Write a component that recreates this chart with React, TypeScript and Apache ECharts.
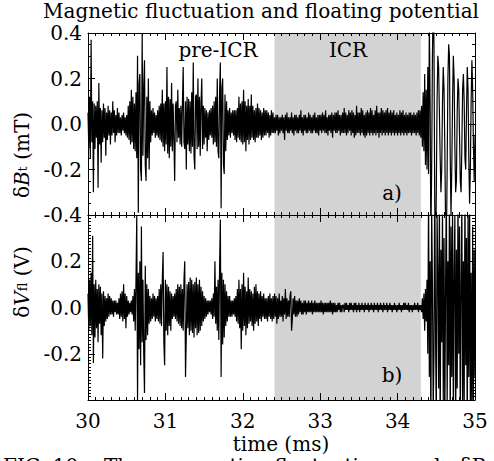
import React, { useEffect, useRef } from "react";
import * as echarts from "echarts";

const FONT = "DejaVu Serif";

// sampling of the traces (ms)
const T_START = 30;
const T_STEP = 0.01;

// ICR phase (ms)
const ICR_START = 32.41;
const ICR_END = 34.3;

const X_TICKS = [30, 31, 32, 33, 34, 35];
const Y_TICKS_A = [-0.4, -0.2, 0.0, 0.2, 0.4];
const Y_TICKS_B = [-0.2, 0.0, 0.2];

// magnetic fluctuation dBt (mT), read every 0.01 ms
const dBt = [
  0.05, -0.1, 0.12, -0.15, 0.37, -0.08, 0.1, -0.3, 0.09, -0.11,
  0.08, -0.06, 0.1, -0.28, 0.18, -0.09, 0.07, -0.17, 0.06, -0.08,
  0.09, -0.06, 0.07, -0.14, 0.05, -0.07, 0.08, -0.05, 0.06, -0.09,
  0.05, -0.05, 0.1, -0.04, 0.06, -0.08, 0.04, -0.05, 0.07, -0.04,
  0.05, -0.04, 0.03, -0.05, 0.04, -0.03, 0.05, -0.04, 0.03, -0.05,
  0.04, -0.06, 0.08, -0.07, 0.1, -0.09, 0.15, -0.08, 0.12, -0.11,
  0.09, -0.12, 0.14, -0.15, 0.3, -0.39, 0.18, 0.22, -0.2, -0.25,
  0.4, -0.14, 0.16, 0.28, -0.18, -0.25, 0.12, -0.15, 0.2, -0.2,
  0.1, -0.08, 0.06, -0.05, 0.07, -0.04, 0.05, -0.06, 0.04, -0.05,
  0.06, -0.06, 0.08, -0.07, 0.09, -0.08, 0.15, -0.1, 0.09, -0.12,
  0.1, -0.09, 0.25, -0.13, 0.12, -0.15, 0.11, -0.1, 0.18, -0.12,
  0.09, -0.07, -0.25, 0.08, 0.1, -0.08, 0.15, -0.06, 0.07, -0.09,
  0.08, -0.1, 0.09, 0.25, -0.08, -0.11, 0.1, -0.2, 0.12, -0.09,
  0.11, -0.12, 0.1, -0.13, 0.14, -0.1, 0.27, -0.14, -0.2, 0.12,
  0.13, -0.11, 0.2, -0.1, 0.12, -0.14, 0.09, 0.2, -0.11, 0.08,
  -0.09, 0.07, -0.06, 0.06, -0.12, 0.05, -0.07, 0.06, -0.05, 0.07,
  -0.06, 0.08, -0.09, 0.1, -0.08, 0.12, -0.1, 0.2, -0.12, -0.15,
  0.14, 0.27, -0.37, 0.16, 0.2, -0.18, -0.22, 0.13, -0.12, 0.1,
  -0.07, 0.06, -0.05, 0.07, -0.06, 0.05, -0.04, 0.06, -0.05, 0.06,
  -0.07, 0.06, -0.08, 0.07, -0.06, 0.12, -0.07, 0.09, -0.08, 0.1,
  -0.09, 0.15, -0.08, 0.1, -0.12, 0.08, -0.07, 0.11, -0.09, 0.08,
  -0.07, 0.13, -0.06, 0.08, -0.07, 0.06, -0.08, 0.07, -0.06, 0.09,
  -0.06, 0.07, -0.05, 0.06, -0.07, 0.05, -0.06, 0.07, -0.05, 0.06,
  -0.05, 0.06, -0.04, 0.05, -0.06, 0.04, -0.05, 0.06, -0.04, 0.05,
  -0.04, 0.03, -0.04, 0.04, -0.03, 0.04, -0.05, 0.03, -0.04, 0.03,
  -0.03, 0.04, -0.04, 0.03, -0.07, 0.04, -0.03, 0.05, -0.04, 0.03,
  -0.04, 0.03, -0.03, 0.05, -0.04, 0.03, -0.05, 0.04, -0.03, 0.04,
  -0.04, 0.03, -0.04, 0.04, -0.03, 0.06, -0.04, 0.03, -0.05, 0.04,
  -0.03, 0.04, -0.04, 0.03, -0.04, 0.05, -0.03, 0.04, -0.04, 0.03,
  -0.04, 0.04, -0.03, 0.05, -0.04, 0.03, -0.04, 0.04, -0.05, 0.04,
  -0.03, 0.04, -0.04, 0.05, -0.03, 0.04, -0.04, 0.06, -0.04, 0.03,
  -0.05, 0.04, -0.03, 0.04, -0.04, 0.05, -0.06, 0.04, -0.03, 0.05,
  -0.04, 0.05, -0.04, 0.06, -0.03, 0.04, -0.05, 0.04, -0.04, 0.05,
  -0.04, 0.07, -0.04, 0.05, -0.05, 0.04, -0.04, 0.06, -0.03, 0.05,
  -0.05, 0.06, -0.04, 0.05, -0.06, 0.04, -0.05, 0.08, -0.04, 0.05,
  -0.04, 0.05, -0.05, 0.07, -0.04, 0.06, -0.05, 0.04, -0.06, 0.05,
  -0.05, 0.06, -0.04, 0.05, -0.05, 0.07, -0.04, 0.06, -0.05, 0.04,
  -0.04, 0.06, -0.05, 0.08, -0.04, 0.05, -0.06, 0.05, -0.04, 0.07,
  -0.05, 0.06, -0.04, 0.05, -0.05, 0.06, -0.04, 0.07, -0.05, 0.05,
  -0.04, 0.06, -0.05, 0.05, -0.04, 0.06, -0.05, 0.04, -0.04, 0.05,
  -0.05, 0.04, -0.04, 0.06, -0.05, 0.05, -0.04, 0.06, -0.05, 0.04,
  -0.04, 0.05, -0.05, 0.04, -0.04, 0.05, -0.04, 0.05, -0.05, 0.04,
  -0.04, 0.05, -0.04, 0.04, -0.05, 0.05, -0.04, 0.06, -0.05, 0.06,
  -0.06, 0.08, -0.1, 0.14, -0.12, 0.22, -0.18, 0.15, -0.2, 0.25,
  -0.22, 0.45, 0.1, -0.5, -0.2, 0.3, 0.55, 0.35, -0.35, -0.6,
  -0.3, 0.1, 0.3, 0.25, 0.05, -0.15, -0.3, -0.2, 0.1, 0.25,
  0.15, -0.1, -0.45, -0.55, -0.2, 0.2, 0.35, 0.3, -0.15, -0.4,
  -0.2, 0.1, 0.3, 0.2, -0.1, -0.3, -0.25, 0.05, 0.2, 0.15,
  -0.05, -0.25, -0.3, -0.1, 0.15, 0.22, 0.1, -0.15, -0.2, 0.05,
  0.25, 0.15, -0.15, -0.35, -0.2, 0.1, 0.28, 0.15, -0.1, -0.25,
  -0.05,
];

// floating potential dVfl (V), read every 0.01 ms
const dVfl = [
  0.06, -0.1, 0.12, -0.08, 0.15, -0.12, 0.31, -0.24, 0.1, -0.13,
  0.12, -0.09, 0.08, -0.15, 0.1, -0.07, 0.09, -0.12, 0.06, -0.22,
  0.07, -0.08, 0.05, -0.06, 0.04, -0.05, 0.06, -0.04, 0.05, -0.03,
  0.04, -0.03, 0.03, -0.04, 0.03, -0.02, 0.03, -0.03, 0.02, -0.03,
  0.04, -0.05, 0.06, -0.04, 0.07, -0.06, 0.1, -0.05, 0.06, -0.09,
  0.05, -0.04, 0.03, -0.03, 0.02, -0.02, 0.03, -0.03, 0.05, -0.06,
  0.08, -0.1, 0.12, 0.4, -0.4, 0.15, -0.18, 0.2, -0.25, 0.35,
  -0.15, 0.12, -0.2, -0.37, 0.18, -0.14, 0.1, -0.12, 0.08, -0.07,
  0.05, -0.06, 0.04, -0.05, 0.06, -0.04, 0.05, -0.06, 0.04, -0.05,
  0.05, -0.06, 0.08, -0.07, 0.1, -0.08, 0.12, 0.24, -0.15, -0.25,
  0.12, -0.1, 0.1, -0.12, 0.09, -0.08, 0.07, -0.1, 0.06, -0.05,
  0.05, -0.04, 0.06, -0.05, 0.08, -0.06, 0.1, -0.07, 0.09, -0.08,
  0.1, -0.09, 0.08, -0.1, 0.12, 0.2, -0.3, -0.12, 0.1, -0.09,
  0.11, -0.12, 0.13, -0.1, 0.12, -0.11, 0.1, -0.13, 0.11, -0.09,
  0.13, -0.12, 0.1, -0.11, 0.12, -0.1, 0.09, -0.08, 0.07, -0.06,
  0.05, -0.05, 0.04, -0.04, 0.03, -0.03, 0.03, -0.02, 0.03, -0.03,
  0.04, -0.05, 0.06, -0.04, 0.2, -0.07, 0.09, -0.1, 0.12, -0.14,
  0.18, 0.38, -0.3, 0.15, -0.16, 0.12, -0.13, 0.1, -0.08, 0.07,
  -0.06, 0.05, -0.04, 0.05, -0.04, 0.03, -0.04, 0.03, -0.03, 0.04,
  -0.04, 0.05, -0.06, 0.08, -0.07, 0.12, -0.09, 0.08, -0.18, 0.1,
  -0.1, 0.15, -0.08, 0.09, -0.12, 0.07, -0.09, 0.13, -0.07, 0.08,
  -0.06, 0.07, -0.08, 0.06, -0.1, 0.09, -0.07, 0.1, -0.06, 0.07,
  -0.08, 0.06, -0.05, 0.07, -0.06, 0.05, -0.04, 0.06, -0.05, 0.04,
  -0.05, 0.04, -0.06, 0.05, -0.04, 0.06, -0.05, 0.04, -0.06, 0.05,
  -0.05, 0.06, -0.04, 0.05, -0.07, 0.04, -0.05, 0.06, -0.04, 0.03,
  -0.04, 0.05, -0.06, 0.04, -0.03, 0.08, -0.05, 0.04, -0.04, 0.03,
  -0.04, 0.05, 0.07, -0.1, -0.05, 0.04, -0.03, 0.05, -0.04, 0.03,
  -0.04, 0.03, -0.03, 0.04, -0.02, 0.03, -0.03, 0.02, -0.03, 0.03,
  -0.02, 0.03, -0.03, 0.02, -0.02, 0.03, -0.02, 0.02, -0.02, 0.03,
  -0.03, 0.02, -0.02, 0.03, -0.02, 0.02, -0.02, 0.02, -0.02, 0.02,
  -0.02, 0.03, -0.02, 0.02, -0.03, 0.02, -0.02, 0.02, -0.02, 0.02,
  -0.02, 0.02, -0.02, 0.03, -0.02, 0.02, -0.03, 0.02, -0.02, 0.02,
  -0.02, 0.01, -0.02, 0.02, -0.01, 0.02, -0.02, 0.01, -0.02, 0.01,
  0.01, -0.02, 0.02, -0.01, 0.02, -0.01, 0.01, -0.02, 0.02, -0.01,
  0.02, -0.01, 0.01, -0.02, 0.02, -0.01, 0.02, -0.02, 0.01, -0.01,
  0.02, -0.02, 0.01, -0.01, 0.02, -0.01, 0.01, -0.02, 0.02, -0.01,
  0.01, -0.01, 0.02, -0.02, 0.01, -0.01, 0.02, -0.01, 0.01, -0.02,
  0.02, -0.01, 0.01, -0.01, 0.02, -0.02, 0.01, -0.01, 0.02, -0.01,
  0.01, -0.02, 0.02, -0.01, 0.01, -0.01, 0.02, -0.02, 0.01, -0.01,
  0.02, -0.01, 0.01, -0.02, 0.01, -0.01, 0.02, -0.01, 0.01, -0.02,
  0.01, -0.01, 0.02, -0.01, 0.01, -0.02, 0.01, -0.01, 0.02, -0.01,
  0.02, -0.01, 0.01, -0.01, 0.02, -0.02, 0.01, -0.01, 0.01, -0.02,
  0.01, -0.01, 0.02, -0.01, 0.01, -0.01, 0.02, -0.02, 0.01, -0.01,
  0.01, -0.02, 0.04, -0.05, 0.06, -0.1, 0.08, -0.06, 0.12, -0.2,
  0.5, -0.3, 0.2, -0.55, 0.45, 0.1, -0.45, -0.2, 0.6, -0.1,
  -0.5, 0.4, 0.15, -0.35, 0.55, -0.6, 0.25, -0.15, 0.45, -0.4,
  0.3, -0.5, 0.1, 0.55, -0.45, 0.2, -0.25, 0.5, -0.55, 0.35,
  -0.3, 0.45, -0.5, 0.15, 0.4, -0.6, 0.25, -0.35, 0.5, -0.2,
  0.35, -0.55, 0.1, 0.45, -0.4, 0.2, -0.5, 0.55, -0.25, 0.3,
  -0.6, 0.4, -0.3, 0.5, -0.45, 0.15, -0.55, 0.35, -0.4, 0.25,
  -0.3,
];

const timeMs = dBt.map((_, i) => +(T_START + i * T_STEP).toFixed(2));
const pairs = (vals: number[]) => vals.map((v, i) => [timeMs[i], v]);

const BLACK = "#000";

function xAxis(gridIndex: number, position: string, showLabel: boolean) {
  return {
    type: "value",
    gridIndex,
    position,
    min: X_TICKS[0],
    max: X_TICKS[X_TICKS.length - 1],
    interval: 1,
    z: 5,
    axisLine: { show: true, onZero: false, lineStyle: { color: BLACK, width: 1 } },
    axisTick: { show: true, inside: true, length: 7, lineStyle: { color: BLACK, width: 1 } },
    minorTick: { show: true, splitNumber: 10, length: 3, lineStyle: { color: BLACK, width: 1 } },
    splitLine: { show: false },
    minorSplitLine: { show: false },
    axisLabel: {
      show: showLabel,
      margin: 11,
      fontFamily: FONT,
      fontSize: 20,
      color: BLACK,
    },
  };
}

function yAxis(gridIndex: number, position: string, showLabel: boolean, ticks: number[], minorSplit: number) {
  return {
    type: "value",
    gridIndex,
    position,
    min: -0.4,
    max: 0.4,
    interval: 0.2,
    z: 5,
    axisLine: { show: true, onZero: false, lineStyle: { color: BLACK, width: 1 } },
    axisTick: { show: true, inside: true, length: 7, lineStyle: { color: BLACK, width: 1 } },
    minorTick: { show: true, splitNumber: minorSplit, length: 3, lineStyle: { color: BLACK, width: 1 } },
    splitLine: { show: false },
    minorSplitLine: { show: false },
    axisLabel: {
      show: showLabel,
      margin: 6,
      fontFamily: FONT,
      fontSize: 20,
      color: BLACK,
      showMinLabel: true,
      showMaxLabel: true,
      formatter: (v: number) =>
        ticks.some((t) => Math.abs(t - v) < 1e-6) ? v.toFixed(1) : "",
    },
  };
}

function trace(xi: number, yi: number, vals: number[]) {
  return {
    type: "line",
    xAxisIndex: xi,
    yAxisIndex: yi,
    data: pairs(vals),
    symbol: "none",
    showSymbol: false,
    clip: true,
    z: 3,
    silent: true,
    lineStyle: { color: BLACK, width: 1.2 },
  };
}

function icrBand(xi: number, yi: number) {
  return {
    type: "line",
    xAxisIndex: xi,
    yAxisIndex: yi,
    data: [],
    z: 1,
    silent: true,
    markArea: {
      silent: true,
      itemStyle: { color: "#d3d3d3" },
      data: [[{ xAxis: ICR_START }, { xAxis: ICR_END }]],
    },
  };
}

function label(text: string, x: number, y: number, size = 20) {
  return {
    type: "text",
    x,
    y,
    z: 10,
    silent: true,
    style: {
      text,
      fill: BLACK,
      fontFamily: FONT,
      fontSize: size,
      align: "center",
      verticalAlign: "middle",
      textAlign: "center",
      textVerticalAlign: "middle",
    },
  };
}

function yName(parts: string, x: number, y: number) {
  return {
    type: "text",
    x,
    y,
    rotation: Math.PI / 2,
    z: 10,
    silent: true,
    style: {
      text: parts,
      fill: BLACK,
      fontFamily: FONT,
      fontSize: 20,
      align: "center",
      verticalAlign: "middle",
      textAlign: "center",
      textVerticalAlign: "middle",
      rich: {
        n: { fontFamily: FONT, fontSize: 20, fill: BLACK },
        i: { fontFamily: FONT, fontSize: 20, fontStyle: "italic", fill: BLACK },
        s: { fontFamily: FONT, fontSize: 13, fill: BLACK },
      },
    },
  };
}

const option = {
  animation: false,
  backgroundColor: "#ffffff",
  textStyle: { fontFamily: FONT },
  grid: [
    { left: 88, top: 33, width: 387, height: 182 },
    { left: 88, top: 215, width: 387, height: 185 },
  ],
  xAxis: [
    xAxis(0, "bottom", false),
    xAxis(0, "top", false),
    xAxis(1, "bottom", true),
    xAxis(1, "top", false),
  ],
  yAxis: [
    yAxis(0, "left", true, Y_TICKS_A, 4),
    yAxis(0, "right", false, Y_TICKS_A, 4),
    yAxis(1, "left", true, Y_TICKS_B, 14),
    yAxis(1, "right", false, Y_TICKS_B, 14),
  ],
  series: [
    icrBand(0, 0),
    icrBand(2, 2),
    trace(0, 0, dBt),
    trace(2, 2, dVfl),
  ],
  graphic: [
    label("Magnetic fluctuation and floating potential", 261, 11, 20),
    label("pre-ICR", 218, 50),
    label("ICR", 348, 50),
    label("a)", 392, 193),
    label("b)", 392, 375),
    label("time (ms)", 281, 444),
    yName("{n|δ}{i|B}{s|t}{n| (mT)}", 22, 155),
    yName("{n|δ}{i|V}{s|fl}{n| (V)}", 22, 282),
    {
      type: "text",
      x: 3,
      y: 456,
      silent: true,
      style: {
        text: "FIG. 10:   The   magnetic   fluctuation   and   δB",
        fill: BLACK,
        fontFamily: FONT,
        fontSize: 20,
        align: "left",
        verticalAlign: "top",
        textAlign: "left",
        textVerticalAlign: "top",
      },
    },
  ],
};

export default function App() {
  const ref = useRef<HTMLDivElement>(null);
  useEffect(() => {
    if (!ref.current) return;
    const chart = echarts.init(ref.current, null, { renderer: "svg" });
    chart.setOption(option as any);
    return () => chart.dispose();
  }, []);
  return (
    <div
      ref={ref}
      style={{ position: "fixed", left: 0, top: 0, width: 494, height: 461, background: "#fff" }}
    />
  );
}
